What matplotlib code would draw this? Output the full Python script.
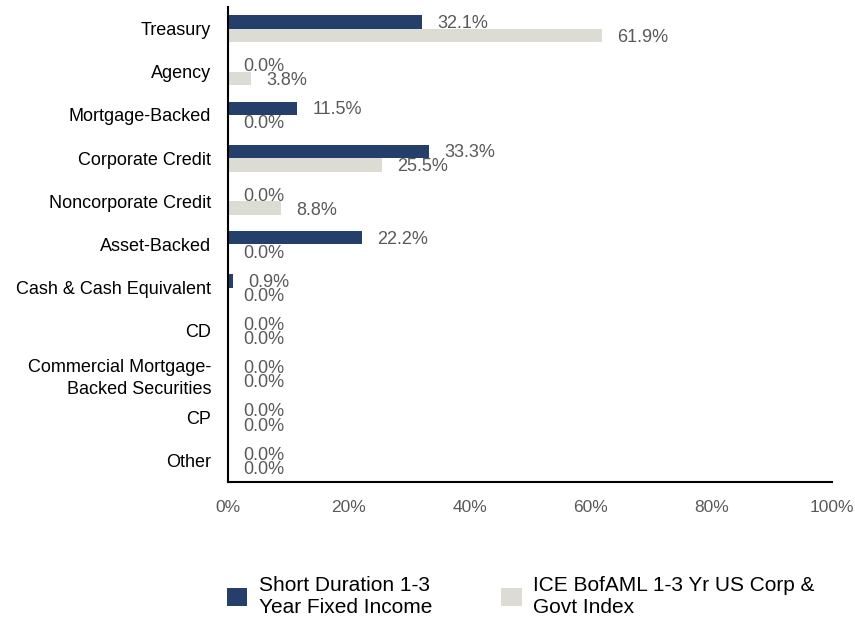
import numpy as np
import matplotlib.pyplot as plt

plt.rcParams['font.family'] = ['Liberation Sans', 'DejaVu Sans']

# sector weights (%)
categories = ['Treasury', 'Agency', 'Mortgage-Backed', 'Corporate Credit',
              'Noncorporate Credit', 'Asset-Backed', 'Cash & Cash Equivalent',
              'CD', 'Commercial Mortgage-\nBacked Securities', 'CP', 'Other']
fund = [32.1, 0.0, 11.5, 33.3, 0.0, 22.2, 0.9, 0.0, 0.0, 0.0, 0.0]
index = [61.9, 3.8, 0.0, 25.5, 8.8, 0.0, 0.0, 0.0, 0.0, 0.0, 0.0]
fund_name = 'Short Duration 1-3\nYear Fixed Income'
index_name = 'ICE BofAML 1-3 Yr US Corp &\nGovt Index'
xticks = [0, 20, 40, 60, 80, 100]

navy = '#253f6b'
grey = '#dcdcd4'
label_col = '#595959'

fig = plt.figure(figsize=(8.55, 6.23), dpi=100)
ax = fig.add_axes([0.2667, 0.2263, 0.7063, 0.7625])

y = np.arange(len(categories))
h = 0.31
b1 = ax.barh(y - h / 2, fund, height=h, color=navy, label=fund_name)
b2 = ax.barh(y + h / 2, index, height=h, color=grey, label=index_name)

# value labels just right of each bar end
for yy, v in zip(y, fund):
    ax.annotate(f'{v:.1f}%', (v, yy - h / 2), xytext=(11, -1),
                textcoords='offset points', va='center', ha='left',
                fontsize=13, color=label_col)
for yy, v in zip(y, index):
    ax.annotate(f'{v:.1f}%', (v, yy + h / 2), xytext=(11, -1.5),
                textcoords='offset points', va='center', ha='left',
                fontsize=13, color=label_col)

ax.set_xlim(0, 100)
ax.set_ylim(len(categories) - 0.5, -0.5)
ax.set_yticks(y)
ax.set_yticklabels(categories, fontsize=13, color='black', linespacing=1.35)
ax.set_xticks(xticks)
ax.set_xticklabels([f'{t}%' for t in xticks], fontsize=12.5, color=label_col)
ax.tick_params(length=0, pad=12)
ax.tick_params(axis='x', pad=13)
for s in ['top', 'right']:
    ax.spines[s].set_visible(False)
for s in ['left', 'bottom']:
    ax.spines[s].set_color('black')
    ax.spines[s].set_linewidth(1.5)

fig.legend(handles=[b1, b2], loc='upper left', bbox_to_anchor=(0.265, 0.075),
           ncol=2, frameon=False, fontsize=15, handlelength=1.0,
           handleheight=1.0, handletextpad=0.55, columnspacing=3.3,
           labelspacing=0.2, borderaxespad=0, borderpad=0)

fig.savefig('out.png', dpi=100)
